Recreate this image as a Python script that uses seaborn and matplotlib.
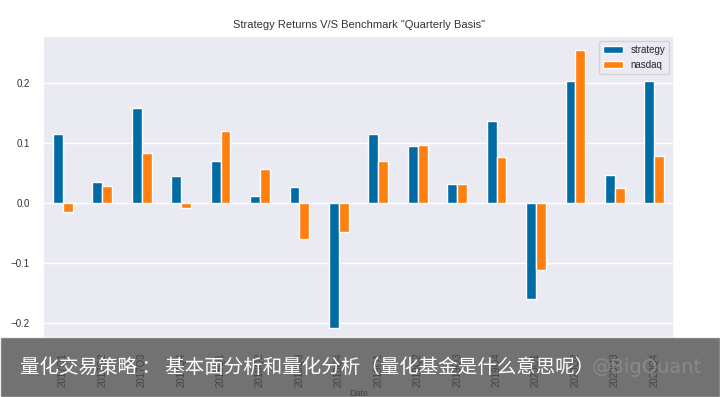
import numpy as np
import pandas as pd
import matplotlib
matplotlib.use("Agg")
import matplotlib.pyplot as plt
from matplotlib.patches import Rectangle
import seaborn as sns

quarters = [
    "2017Q1", "2017Q2", "2017Q3", "2017Q4",
    "2018Q1", "2018Q2", "2018Q3", "2018Q4",
    "2019Q1", "2019Q2", "2019Q3", "2019Q4",
    "2020Q1", "2020Q2", "2020Q3", "2020Q4",
]
strategy = [0.115, 0.035, 0.158, 0.045, 0.070, 0.011, 0.027, -0.208,
            0.115, 0.095, 0.031, 0.137, -0.160, 0.203, 0.046, 0.203]
nasdaq = [-0.015, 0.028, 0.083, -0.008, 0.120, 0.056, -0.060, -0.048,
          0.070, 0.097, 0.031, 0.077, -0.112, 0.255, 0.024, 0.079]
series_names = ["strategy", "nasdaq"]
colors = ["#006BA4", "#FF800E"]

title = 'Strategy Returns V/S Benchmark "Quarterly Basis"'
banner_text = "量化交易策略 ： 基本面分析和量化分析（量化基金是什么意思呢）"
watermark = "@BigQuant"

df = pd.DataFrame({
    "Date": quarters * 2,
    "return": strategy + nasdaq,
    "series": [series_names[0]] * len(quarters) + [series_names[1]] * len(quarters),
})

sns.set_theme(style="darkgrid")
plt.rcParams["font.family"] = ["Liberation Sans", "DejaVu Sans"]

fig = plt.figure(figsize=(7.2, 3.97), dpi=100)
ax = fig.add_axes([0.06, 0.14, 0.876, 0.769])

sns.barplot(
    data=df, x="Date", y="return", hue="series",
    palette=colors, width=0.5, saturation=1, errorbar=None, ax=ax,
)
ax.set_xlim(-0.5, len(quarters) - 0.5)
ax.set_title(title, fontsize=8, color="#333333", pad=6)
ax.set_xlabel("Date", fontsize=6.5, color="#333333", labelpad=1)
ax.set_ylabel("")
ax.tick_params(axis="x", labelrotation=90, labelsize=7, colors="#333333", pad=2)
ax.tick_params(axis="y", labelsize=7, colors="#333333")
ax.set_yticks([-0.2, -0.1, 0.0, 0.1, 0.2])
ax.legend(loc="upper right", fontsize=7, title=None)

# grey caption banner laid over the bottom of the image
fig.patches.append(Rectangle((0, 0), 1, 0.151, transform=fig.transFigure,
                             facecolor="#4a4a4a", alpha=0.78, zorder=10))
fig.text(0.028, 0.075, banner_text, color="white", fontsize=14,
         family=["Noto Sans CJK SC", "DejaVu Sans"], va="center", zorder=11)
fig.text(0.822, 0.075, watermark, color="#8f8f8f", fontsize=14,
         family=["DejaVu Sans"], va="center", alpha=0.8, zorder=11)

fig.savefig("out.png", dpi=100)
